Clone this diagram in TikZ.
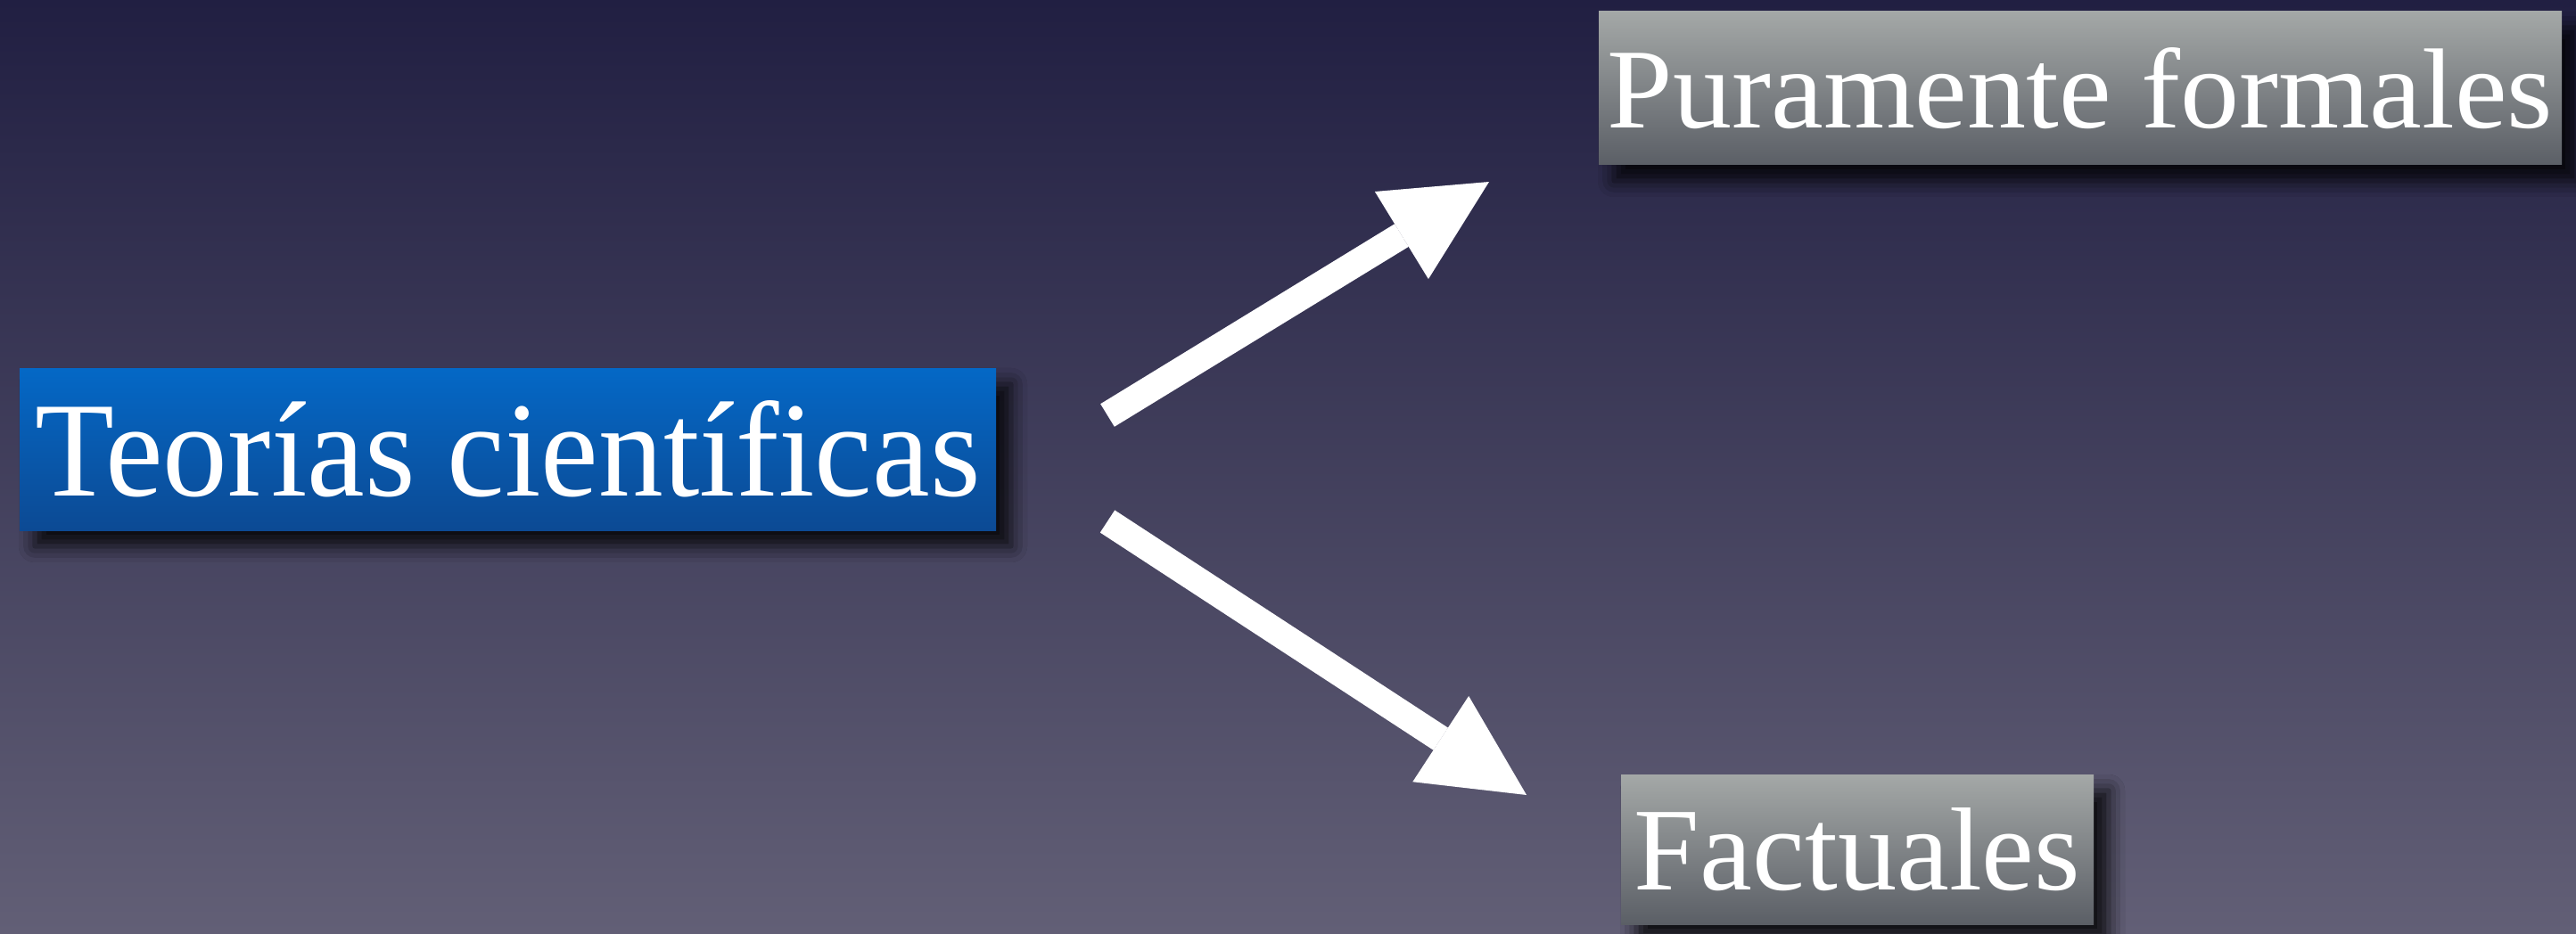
\documentclass[tikz,border=0pt]{standalone}
\usepackage{fontspec}
\setmainfont{Liberation Serif}
\usepackage{graphicx}
\usetikzlibrary{arrows.meta,shadows.blur}
\definecolor{skytopc}{HTML}{211F42}
\definecolor{skybotc}{HTML}{625F76}
\definecolor{bluetopc}{HTML}{0468C6}
\definecolor{bluebotc}{HTML}{0C4A94}
\definecolor{graytopc}{HTML}{A4A8A7}
\definecolor{graybotc}{HTML}{5B5F66}
\tikzset{
  card/.style={inner sep=0pt, text=white, blur shadow={shadow xshift=0.17cm, shadow yshift=-0.18cm, shadow blur radius=0.18cm, shadow opacity=85}},
  topic/.style={card, top color=bluetopc, bottom color=bluebotc},
  branch/.style={card, top color=graytopc, bottom color=graybotc},
  bigarrow/.style={draw=white, line width=0.3cm, -{Triangle[length=1.15cm,width=1.15cm,line width=0pt]}},
}

\begin{document}
\begin{tikzpicture}
\useasboundingbox (0,0) rectangle (28.89,10.47);
\shade[top color=skytopc, bottom color=skybotc] (0,0) rectangle (28.89,10.47);
\node[topic, minimum width=10.95cm, minimum height=1.82cm] (teorias) at (5.695,5.43) {\resizebox{10.6cm}{1.07cm}{Teorías científicas}};
\node[branch, minimum width=10.80cm, minimum height=1.72cm] (formales) at (23.33,9.48) {\resizebox{10.6cm}{0.90cm}{Puramente formales}};
\node[branch, minimum width=5.30cm, minimum height=1.68cm] (factuales) at (20.83,0.94) {\resizebox{5.0cm}{0.92cm}{Factuales}};
% arrows float between the cards
\coordinate (upstart) at (12.42,5.81);
\coordinate (uptip) at (16.70,8.43);
\coordinate (downstart) at (12.42,4.62);
\coordinate (downtip) at (17.12,1.55);
\draw[bigarrow] (upstart) -- (uptip);
\draw[bigarrow] (downstart) -- (downtip);
\end{tikzpicture}
\end{document}
